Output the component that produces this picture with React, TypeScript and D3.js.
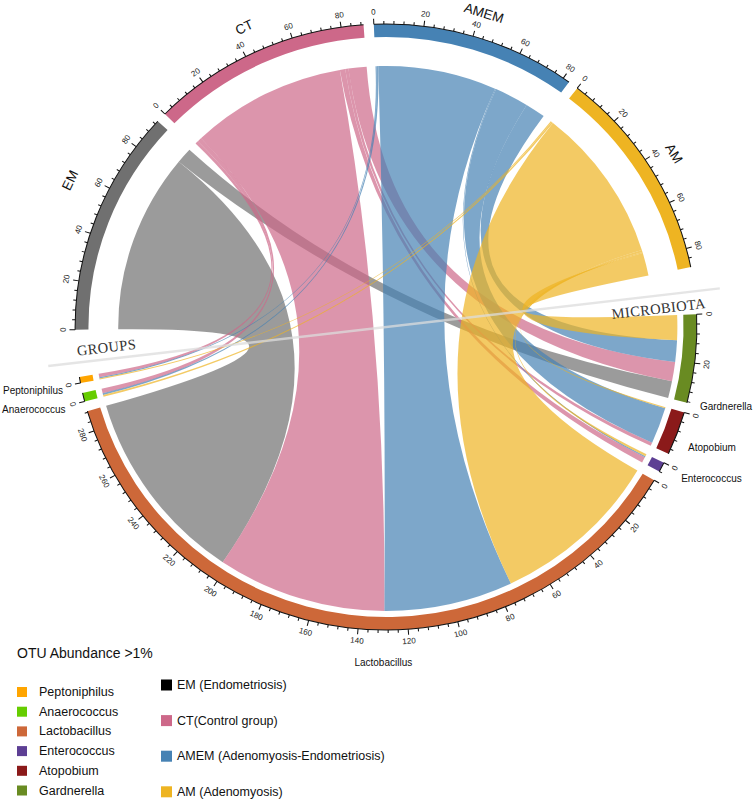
import React, { useEffect, useRef } from "react";
import * as d3 from "d3";

const groupNames = ["EM", "CT", "AMEM", "AM"];
const groupColors = ["#707070", "#CD6889", "#4682B4", "#EEB422"];
const microbeNames = ["Gardnerella", "Atopobium", "Enterococcus", "Lactobacillus", "Anaerococcus", "Peptoniphilus"];
const microbeColors = ["#698B22", "#8B1A1A", "#5D3F94", "#CD6839", "#66CD00", "#FFA500"];

// OTU abundance per group, in the order of microbeNames
const emAbundance = [7.5, 0, 0, 86, 0, 0];
const ctAbundance = [8.5, 1.5, 2.5, 73, 2, 1.5];
const amemAbundance = [9.5, 16, 0.5, 55.5, 0.8, 0.5];
const amAbundance = [11, 0.5, 1, 74, 0.8, 0.5];

const legendTitle = "OTU Abundance >1%";
const legendMicrobes = ["Peptoniphilus", "Anaerococcus", "Lactobacillus", "Enterococcus", "Atopobium", "Gardnerella"];
const legendGroups = ["EM (Endometriosis)", "CT(Control group)", "AMEM (Adenomyosis-Endometriosis)", "AM (Adenomyosis)"];
const legendGroupColors = ["#000000", "#CD6889", "#4682B4", "#EEB422"];

const sans = "'Liberation Sans', Arial, Helvetica, sans-serif";
const serif = "'Liberation Serif', 'DejaVu Serif', serif";

const App = () => {
    const ref = useRef<SVGSVGElement>(null);

    const renderGraph = () => {
        const svg = d3.select(ref.current);
        svg.selectAll("*").remove();

        const cx = 386, cy = 327, sx = 1.026;
        const rOuter = 303, rInner = 290, rMicrobe = 284, rGroup = 261;
        const rad = (d: number) => d * Math.PI / 180;
        const matrix = [emAbundance, ctAbundance, amemAbundance, amAbundance];

        const sectors: any[] = [
            ...groupNames.map((name, i) => ({ name, color: groupColors[i], total: d3.sum(matrix[i]), group: true, index: i })),
            ...microbeNames.map((name, j) => ({ name, color: microbeColors[j], total: d3.sum(matrix, row => row[j]), group: false, index: j })),
        ];
        const gaps = sectors.map((s, k) => (k === 3 || k === sectors.length - 1) ? 9 : 1.9);
        const degPerUnit = (360 - d3.sum(gaps)) / d3.sum(sectors, s => s.total);
        let a = -90.5;
        sectors.forEach((s, k) => {
            s.start = a;
            s.end = a + s.total * degPerUnit;
            s.scale = d3.scaleLinear().domain([0, s.total]).range([rad(s.start), rad(s.end)]);
            a = s.end + gaps[k];
        });
        const groupSectors = sectors.filter(s => s.group);
        const microbeSectors = sectors.filter(s => !s.group);

        // links: groups list microbes counter-clockwise, microbes list groups counter-clockwise
        const links: any[] = [];
        groupNames.forEach((g, i) => {
            let cur = 0;
            for (let j = microbeNames.length - 1; j >= 0; j--) {
                const v = matrix[i][j];
                links.push({ i, j, v, g0: cur, g1: cur + v });
                cur += v;
            }
        });
        microbeNames.forEach((m, j) => {
            let cur = 0;
            for (let i = groupNames.length - 1; i >= 0; i--) {
                const l = links.find(d => d.i === i && d.j === j);
                l.m0 = cur;
                l.m1 = cur + l.v;
                cur += l.v;
            }
        });

        const pt = (r: number, ang: number) => [r * Math.sin(ang), -r * Math.cos(ang)];
        const ribbon = (a0: number, a1: number, b0: number, b1: number) => {
            const p = d3.path();
            const [x0, y0] = pt(rGroup, a0);
            p.moveTo(x0, y0);
            p.arc(0, 0, rGroup, a0 - Math.PI / 2, a1 - Math.PI / 2);
            const [x2, y2] = pt(rMicrobe, b0);
            p.quadraticCurveTo(0, 0, x2, y2);
            p.arc(0, 0, rMicrobe, b0 - Math.PI / 2, b1 - Math.PI / 2);
            p.quadraticCurveTo(0, 0, x0, y0);
            p.closePath();
            return p.toString();
        };

        const g = svg.append("g").attr("transform", `translate(${cx},${cy}) scale(${sx},1)`);

        // chords
        g.append("g")
            .selectAll("path")
            .data(links.filter(l => l.v > 0))
            .join("path")
            .attr("d", l => ribbon(
                groupSectors[l.i].scale(l.g0), groupSectors[l.i].scale(l.g1),
                microbeSectors[l.j].scale(l.m0), microbeSectors[l.j].scale(l.m1)))
            .attr("fill", l => groupColors[l.i])
            .attr("fill-opacity", 0.7);

        // sector bars
        const arc = d3.arc<any>().innerRadius(rInner).outerRadius(rOuter)
            .startAngle(s => rad(s.start)).endAngle(s => rad(s.end));
        g.append("g")
            .selectAll("path")
            .data(sectors)
            .join("path")
            .attr("d", arc)
            .attr("fill", s => s.color);

        // axis line and ticks
        const axis = g.append("g").attr("stroke", "#111").attr("fill", "none").attr("stroke-width", 1);
        sectors.forEach(s => {
            const line = d3.arc<any>().innerRadius(rOuter).outerRadius(rOuter)
                .startAngle(rad(s.start)).endAngle(rad(s.end));
            axis.append("path").attr("d", line({}));
            const ticks = d3.range(0, s.total + 0.001, 4);
            ticks.forEach(v => {
                const ang = s.scale(v);
                const len = v % 20 === 0 ? 5.5 : 3;
                const [x1, y1] = pt(rOuter, ang);
                const [x2, y2] = pt(rOuter + len, ang);
                axis.append("line").attr("x1", x1).attr("y1", y1).attr("x2", x2).attr("y2", y2);
            });
        });

        // text placed with the same horizontal stretch, but unscaled glyphs
        const pos = (r: number, ang: number) => [cx + sx * r * Math.sin(ang), cy - r * Math.cos(ang)];
        const rot = (ang: number) => {
            let d = ((ang * 180 / Math.PI) % 360 + 360) % 360;
            return d > 90 && d < 270 ? d - 180 : d;
        };

        const labels = svg.append("g").attr("font-family", sans).attr("fill", "#222");
        sectors.forEach(s => {
            d3.range(0, s.total + 0.001, 20).forEach(v => {
                const ang = s.scale(v);
                const [x, y] = pos(rOuter + 12, ang);
                labels.append("text")
                    .attr("transform", `translate(${x},${y}) rotate(${rot(ang)})`)
                    .attr("text-anchor", "middle")
                    .attr("dominant-baseline", "central")
                    .attr("font-size", 8)
                    .text(v);
            });
        });

        // group names
        const nameFrac = [0.6, 0.5, 0.5, 0.5];
        const nameR = [341, 330, 328, 330];
        groupSectors.forEach((s, i) => {
            const ang = s.scale(s.total * nameFrac[i]);
            const [x, y] = pos(nameR[i], ang);
            labels.append("text")
                .attr("transform", `translate(${x},${y}) rotate(${rot(ang)})`)
                .attr("text-anchor", "middle")
                .attr("dominant-baseline", "central")
                .attr("font-size", 13.5)
                .attr("fill", "#111")
                .text(s.name);
        });

        // microbe names, horizontal
        const microbeLabel = [
            { frac: 1.0, dAng: 0, r: 316, anchor: "start" },
            { frac: 0.7, dAng: 0, r: 318, anchor: "start" },
            { frac: 0.6, dAng: 0, r: 325, anchor: "start" },
            { frac: 0.45, dAng: 0, r: 336, anchor: "middle" },
            { frac: 0, dAng: -0.5, r: 323, anchor: "end" },
            { frac: 0, dAng: -0.7, r: 321, anchor: "end" },
        ];
        microbeSectors.forEach((s, j) => {
            const o = microbeLabel[j];
            const [x, y] = pos(o.r, s.scale(s.total * o.frac) + rad(o.dAng));
            labels.append("text")
                .attr("x", x).attr("y", y)
                .attr("text-anchor", o.anchor)
                .attr("dominant-baseline", "central")
                .attr("font-size", 10)
                .attr("fill", "#111")
                .text(s.name);
        });

        // divider between the two halves
        const phi = rad(-6.6);
        const lp = (t: number) => [cx + t * Math.cos(phi), cy + t * Math.sin(phi)];
        const [lx1, ly1] = lp(-340);
        const [lx2, ly2] = lp(336);
        svg.append("line")
            .attr("x1", lx1).attr("y1", ly1).attr("x2", lx2).attr("y2", ly2)
            .attr("stroke", "#dcdcdc").attr("stroke-opacity", 0.75).attr("stroke-width", 2.5);

        const nUp = [Math.sin(phi), -Math.cos(phi)];
        const side = (t: number, off: number, text: string) => {
            const [px, py] = lp(t);
            svg.append("text")
                .attr("transform", `translate(${px + nUp[0] * off},${py + nUp[1] * off}) rotate(-6.6)`)
                .attr("text-anchor", "middle")
                .attr("dominant-baseline", "central")
                .attr("font-family", serif)
                .attr("font-size", 14.5)
                .attr("letter-spacing", 0.4)
                .attr("fill", "#333")
                .text(text);
        };
        side(-280, 12, "GROUPS");
        side(273, -13, "MICROBIOTA");

        // legend
        const legend = svg.append("g").attr("font-family", sans).attr("fill", "#111");
        legend.append("text").attr("x", 17).attr("y", 653).attr("dominant-baseline", "central")
            .attr("font-size", 14).text(legendTitle);
        legendMicrobes.forEach((m, k) => {
            const y = 692 + k * 19.7;
            legend.append("rect").attr("x", 17).attr("y", y - 5).attr("width", 10).attr("height", 10)
                .attr("fill", microbeColors[microbeNames.indexOf(m)]);
            legend.append("text").attr("x", 39).attr("y", y).attr("dominant-baseline", "central")
                .attr("font-size", 12.5).text(m);
        });
        legendGroups.forEach((m, k) => {
            const y = 685 + k * 35.6;
            legend.append("rect").attr("x", 161).attr("y", y - 5.5).attr("width", 11).attr("height", 11)
                .attr("fill", legendGroupColors[k]);
            legend.append("text").attr("x", 177).attr("y", y).attr("dominant-baseline", "central")
                .attr("font-size", 12.5).text(m);
        });
    };

    useEffect(() => {
        renderGraph();
    });

    return (
        <svg ref={ref} width={756} height={801}
            style={{ position: "absolute", left: 0, top: 0, background: "#fff" }} />
    );
};

export default App;
